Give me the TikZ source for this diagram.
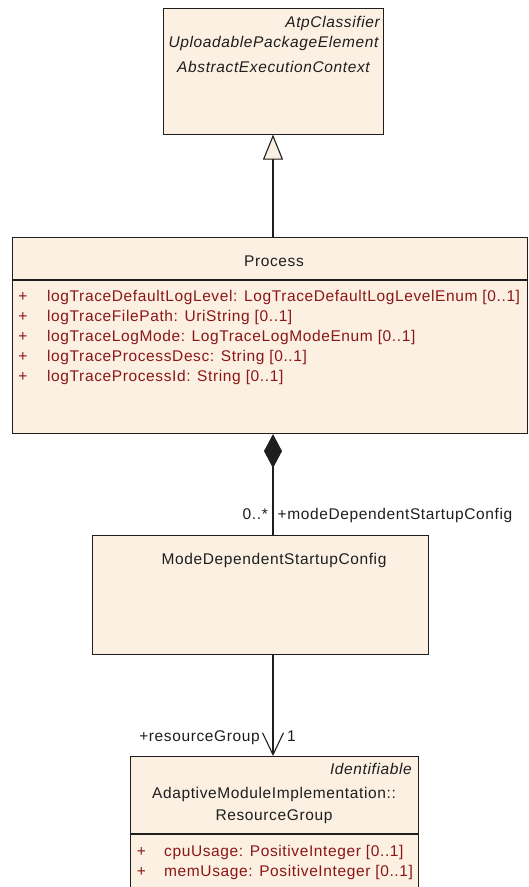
\documentclass[tikz,border=0pt]{standalone}
\usepackage{fontspec}
\setmainfont{Liberation Sans}[LetterSpace=4]
\usetikzlibrary{arrows.meta}
\definecolor{umlfill}{RGB}{251,240,226}
\definecolor{attrred}{RGB}{140,22,22}
\definecolor{umlline}{RGB}{30,30,30}
\begin{document}
\begin{tikzpicture}[x=1pt,y=-1pt,
  font=\fontsize{15.5}{18}\selectfont,
  cls/.style={draw=umlline, line width=1.1pt, fill=umlfill, anchor=north west, inner sep=0pt},
  divl/.style={draw=umlline, line width=1.1pt},
  conn/.style={draw=umlline, line width=1.1pt},
  lbl/.style={inner sep=0pt, text=umlline},
  att/.style={inner sep=0pt, text=attrred, anchor=base west},
  plus/.style={inner sep=0pt, text=attrred, anchor=base}]
\useasboundingbox (0,0) rectangle (528,887);
\coordinate (ax) at (273,0);

% AbstractExecutionContext
\node[cls, minimum width=220pt, minimum height=126pt] (abs) at (163,7.5) {};
\node[lbl, anchor=base east, font=\fontsize{15.5}{18}\selectfont\itshape] (absst1) at (380,27) {AtpClassifier};
\node[lbl, anchor=base, font=\fontsize{15.5}{18}\selectfont\itshape] (absst2) at (273.5,47) {UploadablePackageElement};
\node[lbl, anchor=base, font=\fontsize{15.5}{18}\selectfont\itshape] (absname) at (273.5,72.5) {AbstractExecutionContext};

% Process
\node[cls, minimum width=515pt, minimum height=196pt] (proc) at (12,237) {};
\draw[divl] ([yshift=-43pt]proc.north west) -- ([yshift=-43pt]proc.north east);
\node[lbl, anchor=base] (procname) at (274,266.5) {Process};
\node[plus] (pp1) at (23,301) {+};
\node[att] (pa1) at (47,301) {logTraceDefaultLogLevel: LogTraceDefaultLogLevelEnum [0..1]};
\node[plus] (pp2) at (23,321.2) {+};
\node[att] (pa2) at (47,321.2) {logTraceFilePath: UriString [0..1]};
\node[plus] (pp3) at (23,341.4) {+};
\node[att] (pa3) at (47,341.4) {logTraceLogMode: LogTraceLogModeEnum [0..1]};
\node[plus] (pp4) at (23,361.6) {+};
\node[att] (pa4) at (47,361.6) {logTraceProcessDesc: String [0..1]};
\node[plus] (pp5) at (23,381.8) {+};
\node[att] (pa5) at (47,381.8) {logTraceProcessId: String [0..1]};

% ModeDependentStartupConfig
\node[cls, minimum width=336pt, minimum height=118.5pt] (mdsc) at (92,535) {};
\node[lbl, anchor=base] (mdscname) at (274,564) {ModeDependentStartupConfig};

% ResourceGroup
\node[cls, minimum width=288pt, minimum height=131pt] (rg) at (130,756) {};
\draw[divl] ([yshift=-78pt]rg.north west) -- ([yshift=-78pt]rg.north east);
\node[lbl, anchor=base east, font=\fontsize{15.5}{18}\selectfont\itshape] (rgst) at (412,774) {Identifiable};
\node[lbl, anchor=base] (rgname1) at (274,798) {AdaptiveModuleImplementation::};
\node[lbl, anchor=base] (rgname2) at (274,820) {ResourceGroup};
\node[plus] (rp1) at (141.5,856) {+};
\node[att] (ra1) at (164,856) {cpuUsage: PositiveInteger [0..1]};
\node[plus] (rp2) at (141.5,876) {+};
\node[att] (ra2) at (164,876) {memUsage: PositiveInteger [0..1]};

% connectors
\draw[conn, -{Triangle[open, length=25pt, width=20pt, fill=umlfill]}] (proc.north -| ax) -- (abs.south -| ax);
\draw[conn, -{Diamond[length=34pt, width=18pt, fill=umlline]}] (mdsc.north -| ax) -- (proc.south -| ax);
\draw[conn, -{Straight Barb[length=22pt, width=21pt]}] (mdsc.south -| ax) -- (rg.north -| ax);

% association labels
\node[lbl, anchor=base east] (mult1) at (268,519) {0..*};
\node[lbl, anchor=base west] (role1) at (277.5,519) {+modeDependentStartupConfig};
\node[lbl, anchor=base east] (role2) at (260,741.5) {+resourceGroup};
\node[lbl, anchor=base west] (mult2) at (287,741.5) {1};
\end{tikzpicture}
\end{document}
